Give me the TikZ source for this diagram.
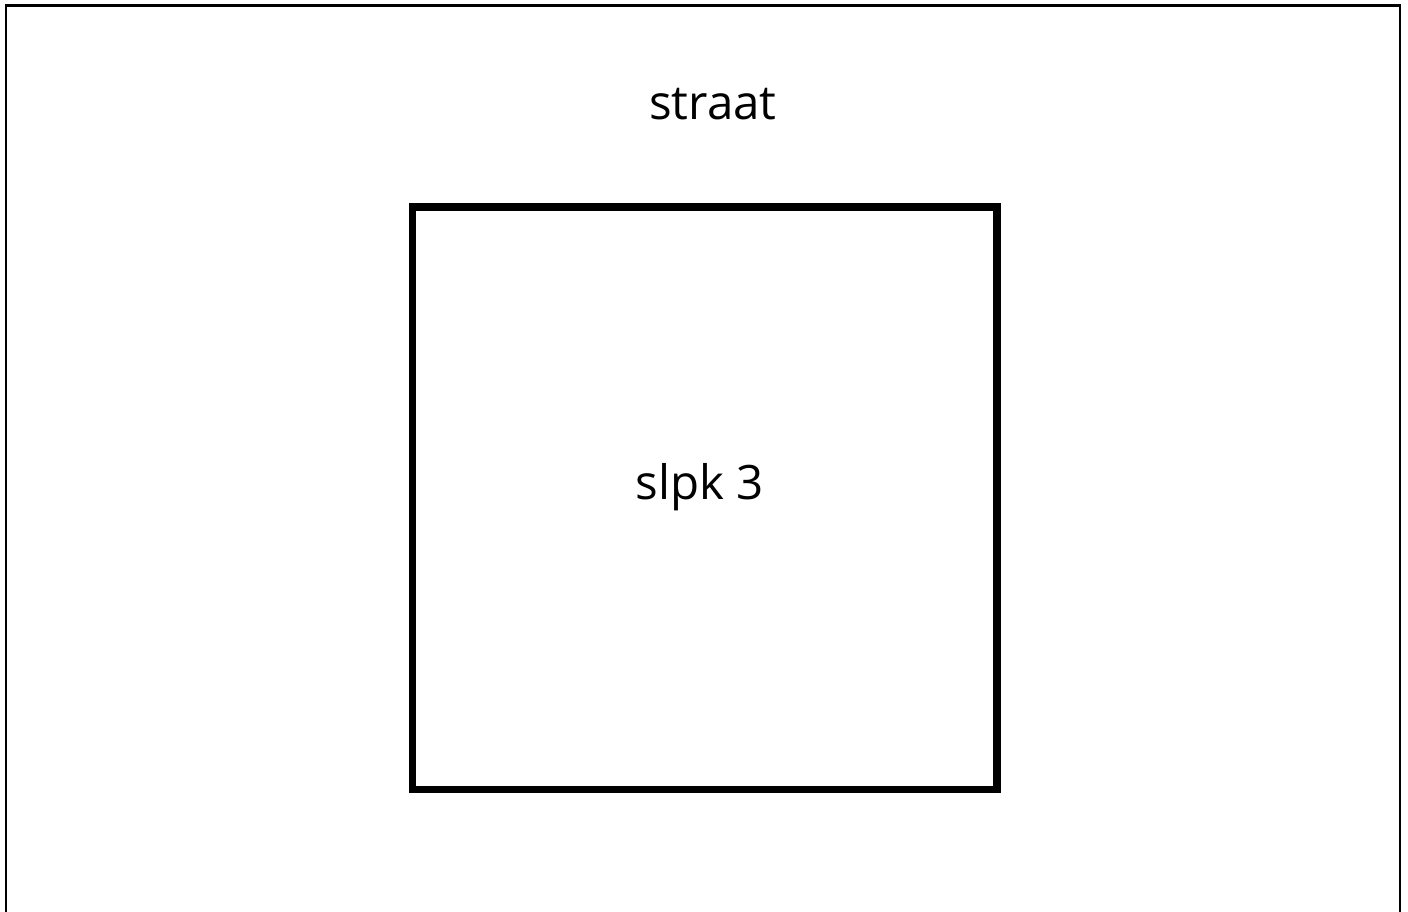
\documentclass[tikz,border=0pt]{standalone}
\usepackage{fontspec}
\setmainfont{Open Sans}
\usepackage{tikz}

\begin{document}
\begin{tikzpicture}[>=latex]
\tikzset{
  wand/.style={line width=1.4pt, line cap=rect},
  kamer/.style={draw, line width=4.3pt, inner sep=0pt},
  naam/.style={font=\fontsize{27}{31}\selectfont, anchor=base}
}
\useasboundingbox (0,0) rectangle (28.16,18.24);

% ===== buitenkader (onderkant open) =====
\draw[wand] (0.12,0) -- (0.12,18.13) -- (28.0,18.13) -- (28.0,0);

% ===== kamer =====
\node[kamer, minimum width=11.69cm, minimum height=11.65cm] (slpk) at (14.095,8.275) {};

% ===== teksten =====
\node[naam] (straat) at (14.26,15.84) {straat};
\node[naam] (slpknaam) at (14.0,8.24) {slpk 3};
\end{tikzpicture}
\end{document}
